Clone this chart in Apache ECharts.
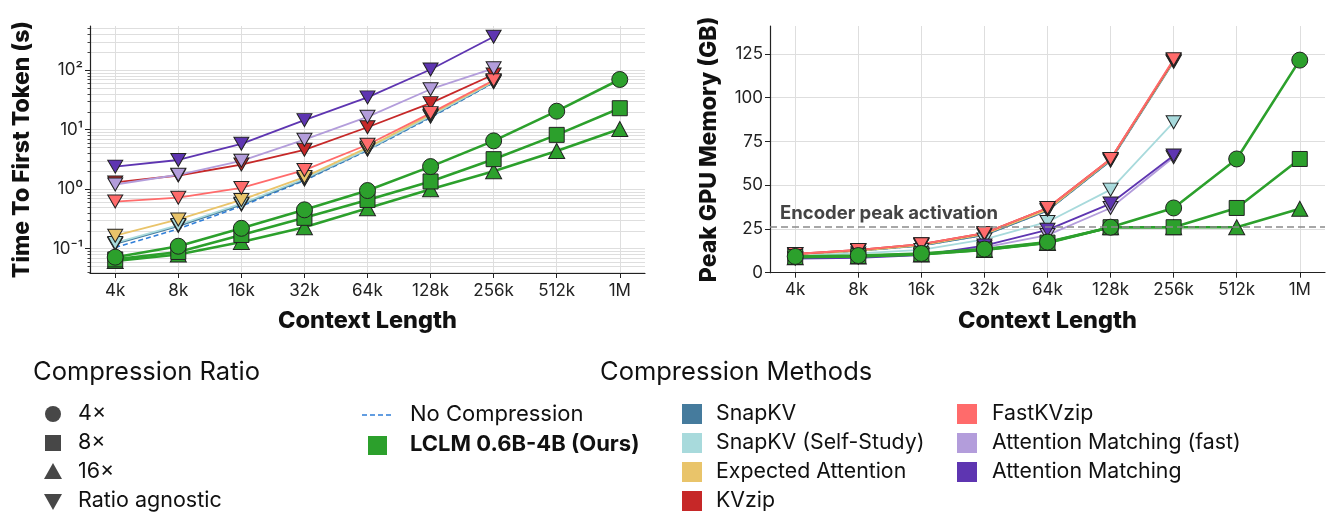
<!DOCTYPE html>
<html><head><meta charset="utf-8">
<script src="https://cdn.jsdelivr.net/npm/echarts@6/dist/echarts.min.js"></script>
<style>html,body{margin:0;padding:0;background:#fff}#c{width:1326px;height:514px}</style>
</head><body><div id="c"></div>
<script>
// ---------------- data ----------------
const contextLabels = ['4k','8k','16k','32k','64k','128k','256k','512k','1M'];
const ttftMajorTicks = [0.1, 1, 10, 100];
const ttftMinorTicks = [0.04,0.05,0.06,0.07,0.08,0.09,0.2,0.3,0.4,0.5,0.6,0.7,0.8,0.9,2,3,4,5,6,7,8,9,20,30,40,50,60,70,80,90,200,300,400,500];
const memTicks = [0, 25, 50, 75, 100, 125];
const encoderPeak = 26;

const methodNames = ['SnapKV','SnapKV (Self-Study)','Expected Attention','KVzip','FastKVzip','Attention Matching (fast)','Attention Matching'];
const ratioNames = ['4×','8×','16×','Ratio agnostic'];

// Time To First Token (s), 4k..256k
const ttftNoCompression = [0.105, 0.215, 0.52, 1.4, 4.5, 16, 62];
const ttftSnapKV        = [0.12, 0.24, 0.55, 1.45, 4.6, 16.5, 63];
const ttftSelfStudy     = [0.125, 0.25, 0.57, 1.5, 4.7, 17, 64];
const ttftExpected      = [0.165, 0.31, 0.66, 1.6, 5.0, 18, 66];
const ttftKVzip         = [1.3, 1.7, 2.6, 4.6, 11, 28, 85];
const ttftFastKVzip     = [0.62, 0.72, 1.05, 2.1, 5.6, 19, 68];
const ttftAttnFast      = [1.2, 1.75, 3.0, 6.8, 16.5, 48, 108];
const ttftAttn          = [2.4, 3.1, 5.8, 14.5, 35, 103, 365];
// LCLM, 4k..1M
const ttftLCLM4  = [0.072, 0.11, 0.22, 0.45, 0.95, 2.4, 6.5, 20.5, 70];
const ttftLCLM8  = [0.066, 0.088, 0.17, 0.33, 0.66, 1.35, 3.2, 8.2, 23];
const ttftLCLM16 = [0.062, 0.08, 0.13, 0.23, 0.48, 1.0, 2.0, 4.4, 10.3];

// Peak GPU Memory (GB), 4k..256k
const memNoCompression = [10.5, 12.5, 15.5, 21.5, 35.5, 64, 121];
const memSnapKV        = [10.5, 12.5, 15.5, 21.5, 35.5, 64, 120.5];
const memSelfStudy     = [9.8, 11, 13, 19, 29, 47.5, 86];
const memExpected      = [10.5, 12.5, 15.8, 22, 36, 64.5, 121];
const memKVzip         = [10.7, 13, 16.3, 22.6, 37, 65, 121.5];
const memFastKVzip     = [10.7, 13, 16.3, 22.6, 37, 65, 122];
const memAttnFast      = [8.3, 8.8, 10.3, 14.5, 21.5, 37, 66];
const memAttn          = [8.0, 8.5, 10.0, 15.5, 24.5, 39.5, 67];
// LCLM, 4k..1M
const memLCLM4  = [9.3, 9.8, 11, 13.5, 17.5, 26, 37, 65, 121.5];
const memLCLM8  = [9.0, 9.5, 10.6, 13.2, 17.2, 26, 26, 37, 65];
const memLCLM16 = [8.8, 9.3, 10.4, 13.0, 17.0, 26, 26, 26, 36.5];

// ---------------- styles ----------------
const FONT = 'Inter';
const colors = {
  noComp: '#2f7ed8',
  'SnapKV': '#457b9d',
  'SnapKV (Self-Study)': '#a8dadc',
  'Expected Attention': '#e9c46a',
  'KVzip': '#c62828',
  'FastKVzip': '#ff6b6b',
  'Attention Matching (fast)': '#b39ddb',
  'Attention Matching': '#5e35b1',
  lclm: '#2ca02c'
};
const pts = arr => arr.map((v, i) => [i, v]);

function methodSeries(name, arr, xi, yi) {
  return {
    type: 'line', name: name, xAxisIndex: xi, yAxisIndex: yi, data: pts(arr),
    symbol: 'triangle', symbolRotate: 180, symbolSize: [15, 13],
    lineStyle: { color: colors[name], width: 1.8 },
    itemStyle: { color: colors[name], borderColor: '#222', borderWidth: 1 },
    z: 3, animation: false, silent: true
  };
}
function noCompSeries(arr, xi, yi) {
  return {
    type: 'line', name: 'No Compression', xAxisIndex: xi, yAxisIndex: yi, data: pts(arr),
    symbol: 'none', lineStyle: { color: colors.noComp, width: 1.6, type: [5, 3] },
    z: 2, animation: false, silent: true
  };
}
function lclmSeries(name, arr, xi, yi, symbol, size) {
  return {
    type: 'line', name: name, xAxisIndex: xi, yAxisIndex: yi, data: pts(arr),
    symbol: symbol, symbolSize: size,
    lineStyle: { color: colors.lclm, width: 2.6 },
    itemStyle: { color: colors.lclm, borderColor: '#222', borderWidth: 1 },
    z: 4, animation: false, silent: true
  };
}

const ttftMethodData = [ttftSnapKV, ttftSelfStudy, ttftExpected, ttftKVzip, ttftFastKVzip, ttftAttnFast, ttftAttn];
const memMethodData = [memSnapKV, memSelfStudy, memExpected, memKVzip, memFastKVzip, memAttnFast, memAttn];

const series = [];
series.push(noCompSeries(ttftNoCompression, 0, 0));
methodNames.forEach((n, i) => series.push(methodSeries(n, ttftMethodData[i], 0, 0)));
series.push(lclmSeries('LCLM 16×', ttftLCLM16, 0, 0, 'triangle', [16, 15]));
series.push(lclmSeries('LCLM 8×', ttftLCLM8, 0, 0, 'rect', 15));
series.push(lclmSeries('LCLM 4×', ttftLCLM4, 0, 0, 'circle', 16));

const memNoComp = noCompSeries(memNoCompression, 1, 2);
memNoComp.markLine = {
  silent: true, symbol: 'none', animation: false,
  lineStyle: { color: '#8a8a8a', type: [7, 4], width: 1.6 },
  label: {
    show: true, position: 'insideStartTop', formatter: 'Encoder peak activation',
    fontFamily: FONT, fontWeight: 'bold', fontSize: 18.5, color: '#444', distance: [10, 4]
  },
  data: [{ yAxis: encoderPeak }]
};
series.push(memNoComp);
methodNames.forEach((n, i) => series.push(methodSeries(n, memMethodData[i], 1, 2)));
series.push(lclmSeries('LCLM 16× m', memLCLM16, 1, 2, 'triangle', [16, 15]));
series.push(lclmSeries('LCLM 8× m', memLCLM8, 1, 2, 'rect', 15));
series.push(lclmSeries('LCLM 4× m', memLCLM4, 1, 2, 'circle', 16));

const idx = contextLabels.map((_, i) => i);
const gridLine = { show: true, lineStyle: { color: '#dedede', width: 1 } };
function xAxisDef(gi) {
  return {
    type: 'value', gridIndex: gi, min: -0.4, max: 8.4,
    name: 'Context Length', nameLocation: 'middle', nameGap: 36,
    nameTextStyle: { fontFamily: FONT, fontWeight: 800, fontSize: 23.5, color: '#111' },
    axisLine: { show: true, onZero: false, lineStyle: { color: '#222', width: 1.2 } },
    axisTick: { show: true, customValues: idx, length: 5, lineStyle: { color: '#222' } },
    axisLabel: { customValues: idx, formatter: v => contextLabels[Math.round(v)], fontFamily: FONT, fontSize: 17, color: '#222', margin: 9 },
    splitLine: gridLine
  };
}
const supMap = { '-': '⁻', '0': '⁰', '1': '¹', '2': '²', '3': '³' };
const option = {
  backgroundColor: '#fff',
  animation: false,
  grid: [
    { left: 90, top: 26, width: 555, height: 247 },
    { left: 770, top: 26, width: 555, height: 246.7 }
  ],
  xAxis: [xAxisDef(0), xAxisDef(1)],
  yAxis: [
    {
      type: 'log', logBase: 10, gridIndex: 0, min: 0.039, max: 555, position: 'left',
      name: 'Time To First Token (s)', nameLocation: 'middle', nameGap: 56,
      nameTextStyle: { fontFamily: FONT, fontWeight: 800, fontSize: 23, color: '#111' },
      axisLine: { show: true, onZero: false, lineStyle: { color: '#222', width: 1.2 } },
      axisTick: { show: true, customValues: ttftMajorTicks, length: 5, lineStyle: { color: '#222' } },
      axisLabel: {
        customValues: ttftMajorTicks, fontFamily: FONT, fontSize: 17, color: '#222', margin: 7,
        formatter: v => '10' + String(Math.round(Math.log10(v))).split('').map(c => supMap[c]).join('')
      },
      splitLine: gridLine
    },
    {
      type: 'log', logBase: 10, gridIndex: 0, min: 0.039, max: 555, position: 'left',
      axisLine: { show: false, onZero: false },
      axisTick: { show: true, customValues: ttftMinorTicks, length: 2.5, lineStyle: { color: '#444' } },
      axisLabel: { show: false, customValues: ttftMinorTicks },
      splitLine: gridLine
    },
    {
      type: 'value', gridIndex: 1, min: 0, max: 141, interval: 25, position: 'left',
      name: 'Peak GPU Memory (GB)', nameLocation: 'middle', nameGap: 49,
      nameTextStyle: { fontFamily: FONT, fontWeight: 800, fontSize: 23, color: '#111' },
      axisLine: { show: true, onZero: false, lineStyle: { color: '#222', width: 1.2 } },
      axisTick: { show: true, customValues: memTicks, length: 5, lineStyle: { color: '#222' } },
      axisLabel: { customValues: memTicks, fontFamily: FONT, fontSize: 17, color: '#222', margin: 7 },
      splitLine: gridLine
    }
  ],
  series: series,
  graphic: []
};

// ---------------- legends (graphic) ----------------
const g = option.graphic;
const txt = (x, y, text, size, weight) => ({
  type: 'text', x: x, y: y, silent: true,
  style: { text: text, fontFamily: FONT, fontSize: size, fontWeight: weight || 'normal', fill: '#111', verticalAlign: 'middle', align: 'left' }
});
g.push(txt(33, 372, 'Compression Ratio', 25.5));
const rowY = [414, 443, 472, 501];
const mc = '#474747';
g.push({ type: 'circle', shape: { cx: 53, cy: rowY[0], r: 8 }, style: { fill: mc }, silent: true });
g.push({ type: 'rect', shape: { x: 45, y: rowY[1] - 8, width: 16, height: 16 }, style: { fill: mc }, silent: true });
g.push({ type: 'polygon', shape: { points: [[44, rowY[2] + 7], [62, rowY[2] + 7], [53, rowY[2] - 9]] }, style: { fill: mc }, silent: true });
g.push({ type: 'polygon', shape: { points: [[44, rowY[3] - 7], [62, rowY[3] - 7], [53, rowY[3] + 9]] }, style: { fill: mc }, silent: true });
ratioNames.forEach((n, i) => g.push(txt(78, rowY[i], n, 21.5)));

g.push({ type: 'line', shape: { x1: 362, y1: 415, x2: 393, y2: 415 }, style: { stroke: colors.noComp, lineWidth: 1.6, lineDash: [5, 3] }, silent: true });
g.push(txt(410, 414, 'No Compression', 22));
g.push({ type: 'rect', shape: { x: 368, y: 436, width: 19, height: 19 }, style: { fill: colors.lclm }, silent: true });
g.push(txt(410, 444, 'LCLM 0.6B-4B (Ours)', 22, 'bold'));

g.push(txt(600, 372, 'Compression Methods', 25.5));
methodNames.forEach((n, i) => {
  const col = i < 4 ? 0 : 1;
  const r = i < 4 ? i : i - 4;
  const sx = col === 0 ? 682 : 957;
  const tx = col === 0 ? 716 : 992;
  g.push({ type: 'rect', shape: { x: sx, y: rowY[r] - 10, width: 20, height: 20 }, style: { fill: colors[n] }, silent: true });
  g.push(txt(tx, rowY[r], n, 21.3));
});

const chart = echarts.init(document.getElementById('c'), null, { renderer: 'canvas' });
chart.setOption(option);
</script>
</body></html>
